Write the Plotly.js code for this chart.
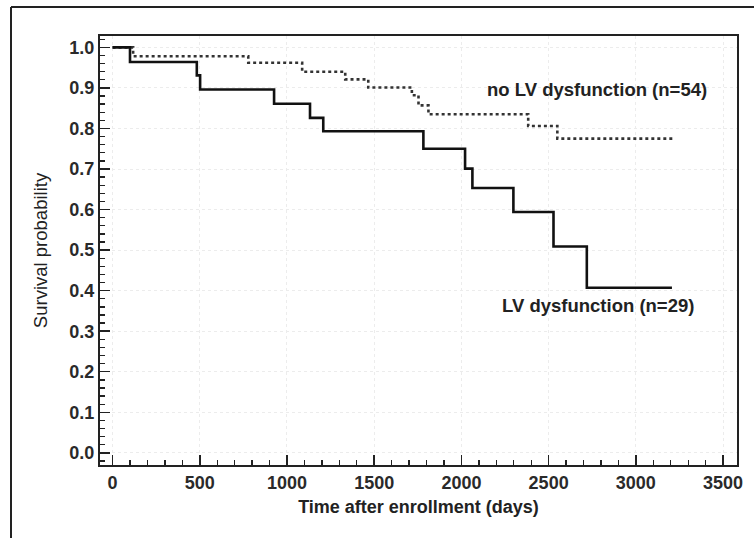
<!DOCTYPE html>
<html>
<head>
<meta charset="utf-8">
<script src="https://cdn.plot.ly/plotly-3.0.1.min.js"></script>
<style>
  html, body { margin: 0; padding: 0; background: #fff; }
  #chart { width: 754px; height: 538px; }
</style>
</head>
<body>
<div id="chart"></div>
<script>
// Kaplan-Meier step data
const noLV_days = [0, 118, 778, 1087, 1334, 1466, 1716, 1754, 1811, 2383, 2550, 3226];
const noLV_surv = [1.0, 0.978, 0.962, 0.940, 0.921, 0.901, 0.882, 0.857, 0.835, 0.806, 0.775, 0.775];

const LV_days = [0, 100, 483, 502, 926, 1132, 1208, 1782, 2021, 2063, 2298, 2528, 2719, 3207];
const LV_surv = [1.0, 0.964, 0.931, 0.896, 0.861, 0.826, 0.793, 0.750, 0.701, 0.653, 0.594, 0.509, 0.407, 0.407];

const labelNoLV = "no LV dysfunction (n=54)";
const labelLV = "LV dysfunction (n=29)";
const xTitle = "Time after enrollment (days)";
const yTitle = "Survival probability";

const W = 754, H = 538;
const M = {l: 100, r: 17, t: 36, b: 73};
const pw = W - M.l - M.r, ph = H - M.t - M.b;
// outer frame position in pixels -> paper coords
const frameX = (11 - M.l) / pw;
const frameY = 1 + (M.t - 7) / ph;

const textFont = {family: "Liberation Sans, Arial, sans-serif", size: 18.5, color: "#222", weight: "bold"};

const traces = [
  {
    x: noLV_days, y: noLV_surv, type: "scatter", mode: "lines",
    line: {shape: "hv", color: "#333", width: 2.6, dash: "dot"},
    name: labelNoLV, showlegend: false, hoverinfo: "skip"
  },
  {
    x: LV_days, y: LV_surv, type: "scatter", mode: "lines",
    line: {shape: "hv", color: "#111", width: 2.6},
    name: labelLV, showlegend: false, hoverinfo: "skip"
  }
];

const axisCommon = {
  showline: true, linecolor: "#222", linewidth: 2, mirror: true,
  ticks: "inside", tickcolor: "#222", tickwidth: 1.5, ticklen: 10,
  showgrid: true, gridcolor: "#ececec", griddash: "dot", gridwidth: 1,
  zeroline: false,
  tickfont: {family: "Liberation Sans, Arial, sans-serif", size: 18, color: "#2a2a2a", weight: "bold"}
};

const layout = {
  width: W, height: H,
  margin: M,
  paper_bgcolor: "#fff", plot_bgcolor: "#fff",
  showlegend: false,
  xaxis: Object.assign({}, axisCommon, {
    range: [-72, 3580], tick0: 0, dtick: 500,
    minor: {ticks: "inside", ticklen: 5, tickcolor: "#222", tickwidth: 1.3, dtick: 100, showgrid: false},
    title: {text: xTitle, standoff: 9,
      font: {family: "Liberation Sans, Arial, sans-serif", size: 18, color: "#222", weight: "bold"}}
  }),
  yaxis: Object.assign({}, axisCommon, {
    range: [-0.030, 1.028], tick0: 0, dtick: 0.1, tickformat: ".1f",
    minor: {ticks: "inside", ticklen: 5, tickcolor: "#222", tickwidth: 1.3, dtick: 0.02, showgrid: false},
    title: {text: yTitle, standoff: 17,
      font: {family: "Liberation Sans, Arial, sans-serif", size: 18.5, color: "#222"}}
  }),
  annotations: [
    {x: 2136, y: 0.896, xref: "x", yref: "y", text: labelNoLV, showarrow: false,
     xanchor: "left", yanchor: "middle", font: textFont},
    {x: 2222, y: 0.364, xref: "x", yref: "y", text: labelLV, showarrow: false,
     xanchor: "left", yanchor: "middle", font: textFont}
  ],
  shapes: [
    {type: "line", xref: "paper", yref: "paper", x0: frameX, x1: frameX, y0: -0.3, y1: frameY,
     line: {color: "#222", width: 2}},
    {type: "line", xref: "paper", yref: "paper", x0: frameX, x1: 1.2, y0: frameY, y1: frameY,
     line: {color: "#222", width: 2}}
  ]
};

Plotly.newPlot("chart", traces, layout, {staticPlot: true, displayModeBar: false});
</script>
</body>
</html>
